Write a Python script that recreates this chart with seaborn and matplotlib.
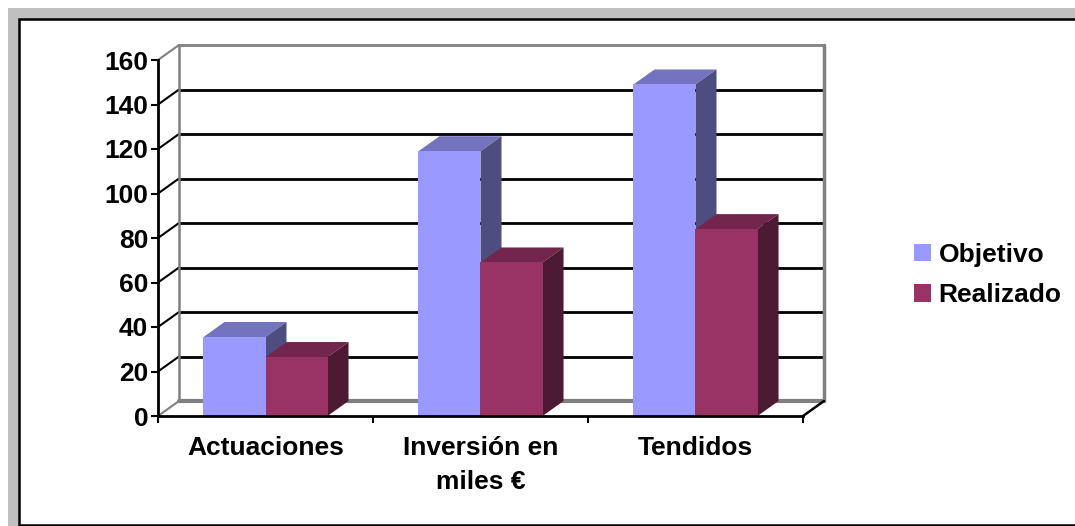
# -*- coding: utf-8 -*-

import pandas as pd
import seaborn as sns
import matplotlib.pyplot as plt
from matplotlib.lines import Line2D
from matplotlib.patches import Polygon, Rectangle
from matplotlib.transforms import IdentityTransform

# Values
categorias = ['Actuaciones', 'Inversión en\nmiles €', 'Tendidos']
objetivo = [35.5, 119, 149]
realizado = [26.5, 69, 84]
y_ticks = [0, 20, 40, 60, 80, 100, 120, 140, 160]

df = pd.DataFrame({
    'categoria': categorias * 2,
    'valor': objetivo + realizado,
    'serie': ['Objetivo'] * 3 + ['Realizado'] * 3,
})

# face, top and side colours of each series
colores = {'Objetivo': '#9999FF', 'Realizado': '#993366'}
techo = ['#7373BF', '#73264D']
lado = ['#4D4D80', '#4D1A33']

W, H = 1075, 526
DX, DY = 21, 15  # depth of the fake 3D box, in pixels
GRIS = '#808080'

sns.set_theme(style='white')
plt.rcParams['font.family'] = ['Liberation Sans', 'DejaVu Sans']
plt.rcParams['font.weight'] = 'bold'
FS = 19

fig = plt.figure(figsize=(W / 100, H / 100), dpi=100, facecolor='white')

# Grey band and black frame behind the chart
fig.add_artist(Rectangle((8 / W, 0), 1 - 8 / W, 1 - 8 / H, transform=fig.transFigure,
                         facecolor='#C0C0C0', edgecolor='none', zorder=-3))
fig.add_artist(Rectangle((19 / W, 1 / H), 1, 1 - 20 / H, transform=fig.transFigure,
                         facecolor='white', edgecolor='black', linewidth=1.8, zorder=-2))

ax = fig.add_axes([158 / W, 1 - 416 / H, 645 / W, 356 / H])
ax.patch.set_alpha(0)

sns.barplot(data=df, x='categoria', y='valor', hue='serie', palette=colores,
            width=0.577, gap=0, saturation=1, linewidth=0, ax=ax, zorder=3)

ax.set_xlim(-0.5, 2.5)
ax.set_ylim(0, 160)
ax.set_yticks(y_ticks)
ax.set_xlabel('')
ax.set_ylabel('')
sns.despine(ax=ax)
for lado_eje in ['left', 'bottom']:
    ax.spines[lado_eje].set_color('black')
    ax.spines[lado_eje].set_linewidth(2)
    ax.spines[lado_eje].set_zorder(4)

# Category names in the middle, tick marks between categories
ax.set_xticks([-0.5, 0.5, 1.5, 2.5], minor=True)
ax.tick_params(axis='x', which='major', length=0, pad=14.5, labelsize=FS, labelcolor='black')
ax.tick_params(axis='x', which='minor', bottom=True, length=5, width=1.5, color='black')
ax.tick_params(axis='y', left=True, length=5, width=1.5, color='black', pad=2,
               labelsize=FS, labelcolor='black')
for t in ax.get_xticklabels():
    t.set_linespacing(1.5)
    t.set_fontweight('bold')
for t in ax.get_yticklabels():
    t.set_fontweight('bold')

px = IdentityTransform()


def a_pixel(x, y):
    return ax.transData.transform((x, y))


def linea(p0, p1, color, lw=1.5, z=1):
    ax.add_line(Line2D([p0[0], p1[0]], [p0[1], p1[1]], color=color, linewidth=lw,
                       transform=px, clip_on=False, zorder=z))


# Back wall and left wall
x0, x1 = ax.get_xlim()
for v in y_ticks:
    color = GRIS if v in (0, 160) else 'black'
    grosor = 3 if v == 0 else 2
    a = a_pixel(x0, v)
    b = a_pixel(x1, v)
    atras_a = (a[0] + DX, a[1] + DY)
    atras_b = (b[0] + DX, b[1] + DY)
    linea(atras_a, atras_b, color, grosor)
    linea(a, atras_a, color, 1.5)

pie_izq = a_pixel(x0, 0)
tope_izq = a_pixel(x0, 160)
pie_der = a_pixel(x1, 0)
tope_der = a_pixel(x1, 160)
linea((pie_izq[0] + DX, pie_izq[1] + DY), (tope_izq[0] + DX, tope_izq[1] + DY), GRIS, 1.8)
linea((pie_der[0] + DX, pie_der[1] + DY), (tope_der[0] + DX, tope_der[1] + DY), GRIS, 2.5)
linea(pie_der, (pie_der[0] + DX, pie_der[1] + DY), 'black', 1.8)

# Top and side faces of every bar, taken from the bars seaborn drew
for i, contenedor in enumerate(ax.containers):
    for barra in contenedor:
        xa = barra.get_x()
        xb = xa + barra.get_width()
        alto = barra.get_height()
        p1 = a_pixel(xa, alto)
        p2 = a_pixel(xb, alto)
        p3 = a_pixel(xb, 0)
        ax.add_patch(Polygon([p1, p2, (p2[0] + DX, p2[1] + DY), (p1[0] + DX, p1[1] + DY)],
                             closed=True, facecolor=techo[i], edgecolor='none',
                             transform=px, clip_on=False, zorder=2 + i * 0.5))
        ax.add_patch(Polygon([p3, p2, (p2[0] + DX, p2[1] + DY), (p3[0] + DX, p3[1] + DY)],
                             closed=True, facecolor=lado[i], edgecolor='none',
                             transform=px, clip_on=False, zorder=2 + i * 0.5))

# Legend on the right
handles, labels = ax.get_legend_handles_labels()
ax.legend_.remove()
fig.legend(handles, labels, loc='center left', bbox_to_anchor=(914 / W, 1 - 275 / H),
           frameon=False, fontsize=FS, labelcolor='black', handlelength=0.65,
           handleheight=0.65, handletextpad=0.28, labelspacing=0.62,
           borderpad=0, borderaxespad=0)

fig.savefig('out.png', dpi=100, facecolor='white')
